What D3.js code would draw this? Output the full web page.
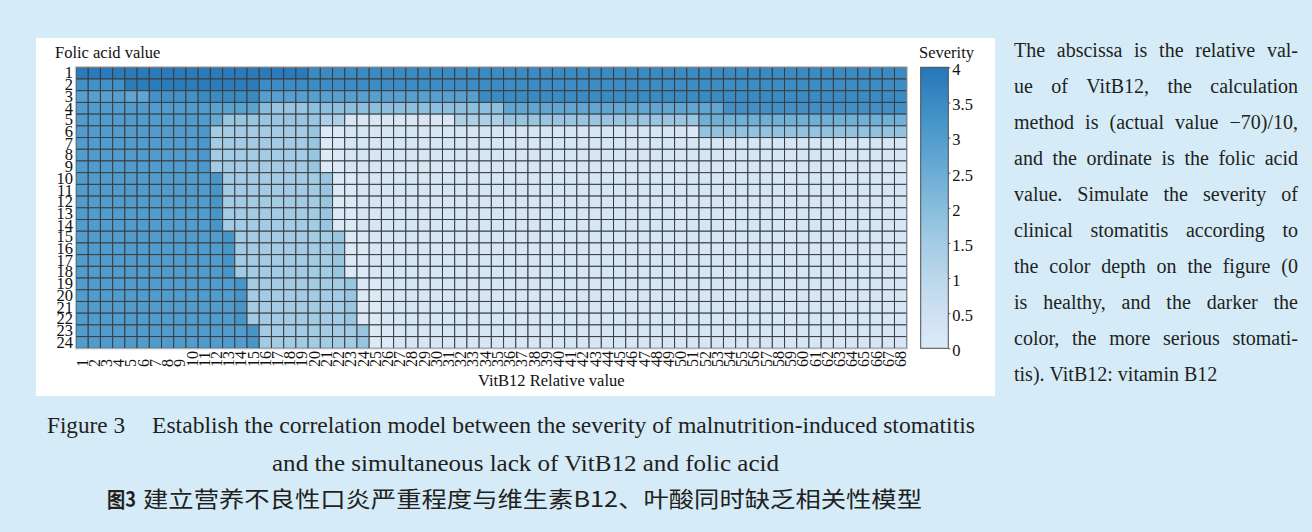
<!DOCTYPE html>
<html>
<head>
<meta charset="utf-8">
<script src="https://cdn.jsdelivr.net/npm/d3@7"></script>
<style>
  html, body { margin: 0; padding: 0; background: #d5ebf8; }
  svg { display: block; }
</style>
</head>
<body>
<svg id="fig" width="1312" height="532"></svg>
<script>
// ---- data ----------------------------------------------------------------
// VitB12 relative value (columns) and folic acid value (rows)
const vitB12Values = d3.range(1, 69);
const folicValues = d3.range(1, 25);

// Severity per folic-acid row, stored as runs of [number of columns, severity]
// running left to right across the 68 VitB12 columns.
const severityRow1  = [[19, 3.9], [49, 3.5]];
const severityRow2  = [[4, 3.3], [11, 3.85], [53, 3.45]];
const severityRow3  = [[4, 2.9], [2, 2.7], [4, 3.3], [5, 3.5], [18, 2.9], [35, 3.5]];
const severityRow4  = [[11, 3.0], [4, 2.8], [1, 2.0], [3, 1.7], [16, 1.9], [18, 2.7], [15, 3.35]];
const severityRow5  = [[11, 3.0], [1, 2.6], [8, 1.7], [2, 1.3], [9, 0.15], [4, 1.3], [16, 1.7], [17, 2.4]];
const severityRow6  = [[10, 3.0], [1, 3.1], [8, 1.5], [1, 1.7], [2, 0.05], [28, 0.25], [1, 0.05], [17, 1.8]];
const severityRow7to9   = [[10, 3.0], [1, 3.1], [8, 1.5], [1, 1.7], [2, 0.05], [46, 0.25]];
const severityRow10to14 = [[11, 3.0], [1, 3.2], [8, 1.5], [1, 1.7], [2, 0.05], [45, 0.25]];
const severityRow15to18 = [[12, 3.0], [1, 3.2], [8, 1.5], [1, 1.7], [2, 0.05], [44, 0.25]];
const severityRow19to22 = [[13, 3.0], [1, 3.2], [8, 1.5], [1, 1.7], [2, 0.05], [43, 0.25]];
const severityRow23to24 = [[14, 3.0], [1, 3.2], [8, 1.5], [1, 1.7], [2, 0.05], [42, 0.25]];

const severityRows = [
  severityRow1, severityRow2, severityRow3, severityRow4, severityRow5, severityRow6,
  severityRow7to9, severityRow7to9, severityRow7to9,
  severityRow10to14, severityRow10to14, severityRow10to14, severityRow10to14, severityRow10to14,
  severityRow15to18, severityRow15to18, severityRow15to18, severityRow15to18,
  severityRow19to22, severityRow19to22, severityRow19to22, severityRow19to22,
  severityRow23to24, severityRow23to24
];

const severityTicks = [0, 0.5, 1, 1.5, 2, 2.5, 3, 3.5, 4];

const noteLines = [
  "The abscissa is the relative val-",
  "ue of VitB12, the calculation",
  "method is (actual value \u221270)/10,",
  "and the ordinate is the folic acid",
  "value. Simulate the severity of",
  "clinical stomatitis according to",
  "the color depth on the figure (0",
  "is healthy, and the darker the",
  "color, the more serious stomati-",
  "tis). VitB12: vitamin B12"
];

// ---- build cells -----------------------------------------------------------
const cells = [];
severityRows.forEach((runs, r) => {
  let c = 0;
  runs.forEach(([n, v]) => {
    for (let k = 0; k < n; k++, c++) {
      cells.push({ folic: folicValues[r], vit: vitB12Values[c], value: v });
    }
  });
});

// ---- layout ----------------------------------------------------------------
const serif = "'Liberation Serif', 'DejaVu Serif', serif";
const grid = { x0: 76, x1: 906.7, y0: 67.3, y1: 348.3 };
const bar = { x0: 920.7, x1: 948.3 };

const svg = d3.select("#fig");

// white figure panel
svg.append("rect")
  .attr("x", 36).attr("y", 38).attr("width", 959).attr("height", 358)
  .attr("fill", "#ffffff");

const x = d3.scaleBand().domain(vitB12Values).range([grid.x0, grid.x1]);
const y = d3.scaleBand().domain(folicValues).range([grid.y0, grid.y1]);
// severity 0..4 mapped onto the middle part of the Blues ramp
const color = d3.scaleSequential(t => d3.interpolateBlues(0.13 + 0.6 * t)).domain([0, 4]);

// heatmap cells
svg.append("g")
  .selectAll("rect")
  .data(cells)
  .join("rect")
  .attr("x", d => x(d.vit))
  .attr("y", d => y(d.folic))
  .attr("width", x.bandwidth())
  .attr("height", y.bandwidth())
  .attr("fill", d => color(d.value))
  .attr("stroke", "#3a3d42")
  .attr("stroke-width", 1);

// light frame around the heatmap
svg.append("rect")
  .attr("x", grid.x0 - 0.5).attr("y", grid.y0 - 0.5)
  .attr("width", grid.x1 - grid.x0 + 1).attr("height", grid.y1 - grid.y0 + 1)
  .attr("fill", "none").attr("stroke", "#c4c7cb").attr("stroke-width", 1.2);

// y axis (folic acid value)
const yAxis = svg.append("g")
  .attr("transform", `translate(${grid.x0},0)`)
  .call(d3.axisLeft(y).tickSize(0).tickPadding(3));
yAxis.select(".domain").remove();
yAxis.selectAll("text")
  .attr("font-family", serif).attr("font-size", 16.5).attr("fill", "#111");

// x axis (VitB12 relative value), labels rotated
const xAxis = svg.append("g")
  .attr("transform", `translate(0,${grid.y1})`)
  .call(d3.axisBottom(x).tickSize(0));
xAxis.select(".domain").remove();
xAxis.selectAll("text")
  .attr("transform", "rotate(-90)")
  .attr("text-anchor", "start")
  .attr("x", -18.7)
  .attr("y", 0)
  .attr("dy", "0.34em")
  .attr("font-family", serif).attr("font-size", 16).attr("fill", "#111");

// axis titles
svg.append("text")
  .attr("x", 55).attr("y", 58)
  .attr("font-family", serif).attr("font-size", 16.5).attr("fill", "#111")
  .text("Folic acid value");

svg.append("text")
  .attr("x", 478).attr("y", 386)
  .attr("font-family", serif).attr("font-size", 16.5).attr("fill", "#111")
  .text("VitB12 Relative value");

// colour bar
const barScale = d3.scaleLinear().domain([0, 4]).range([grid.y1, grid.y0]);
const defs = svg.append("defs");
const grad = defs.append("linearGradient")
  .attr("id", "severityGrad")
  .attr("x1", 0).attr("y1", 1).attr("x2", 0).attr("y2", 0);
grad.selectAll("stop")
  .data(severityTicks)
  .join("stop")
  .attr("offset", d => d / 4)
  .attr("stop-color", d => color(d));

svg.append("rect")
  .attr("x", bar.x0).attr("y", grid.y0)
  .attr("width", bar.x1 - bar.x0).attr("height", grid.y1 - grid.y0)
  .attr("fill", "url(#severityGrad)")
  .attr("stroke", "#4a4d52").attr("stroke-width", 1);

const barAxis = svg.append("g")
  .attr("transform", `translate(${bar.x1},0)`)
  .call(d3.axisRight(barScale).tickValues(severityTicks).tickFormat(d3.format("")).tickSize(2).tickPadding(2));
barAxis.select(".domain").remove();
barAxis.selectAll("line").attr("stroke", "#4a4d52");
barAxis.selectAll("text")
  .attr("dy", "0.45em")
  .attr("font-family", serif).attr("font-size", 16.5).attr("fill", "#111");

svg.append("text")
  .attr("x", 919).attr("y", 58)
  .attr("font-family", serif).attr("font-size", 16.5).attr("fill", "#111")
  .text("Severity");

// justified note on the right
const noteX0 = 1014, noteX1 = 1298;
const noteG = svg.append("g")
  .attr("font-family", serif).attr("font-size", 20).attr("fill", "#231f20");
noteLines.forEach((line, i) => {
  const baseline = 57 + 36 * i;
  const words = line.split(" ");
  const widths = words.map(w => {
    const t = noteG.append("text").text(w);
    const wd = t.node().getComputedTextLength();
    t.remove();
    return wd;
  });
  const total = d3.sum(widths);
  const last = i === noteLines.length - 1;
  const gap = last ? 5 : (noteX1 - noteX0 - total) / (words.length - 1);
  let cx = noteX0;
  words.forEach((w, k) => {
    noteG.append("text").attr("x", cx).attr("y", baseline).text(w);
    cx += widths[k] + gap;
  });
});

// figure caption
const capG = svg.append("g").attr("fill", "#231f20");
capG.append("text")
  .attr("x", 47).attr("y", 433)
  .attr("font-family", serif).attr("font-size", 23)
  .attr("textLength", 78).attr("lengthAdjust", "spacingAndGlyphs")
  .text("Figure 3");
capG.append("text")
  .attr("x", 152).attr("y", 433)
  .attr("font-family", serif).attr("font-size", 23)
  .attr("textLength", 823).attr("lengthAdjust", "spacingAndGlyphs")
  .text("Establish the correlation model between the severity of malnutrition-induced stomatitis");
capG.append("text")
  .attr("x", 272).attr("y", 471)
  .attr("font-family", serif).attr("font-size", 23)
  .attr("textLength", 507).attr("lengthAdjust", "spacingAndGlyphs")
  .text("and the simultaneous lack of VitB12 and folic acid");
capG.append("text")
  .attr("x", 107).attr("y", 507)
  .attr("font-family", "'Noto Sans CJK SC', sans-serif").attr("font-size", 21).attr("font-weight", "bold")
  .attr("textLength", 29).attr("lengthAdjust", "spacingAndGlyphs")
  .text("图3");
capG.append("text")
  .attr("x", 143).attr("y", 507)
  .attr("font-family", "'Noto Sans CJK SC', sans-serif").attr("font-size", 22)
  .attr("textLength", 779).attr("lengthAdjust", "spacingAndGlyphs")
  .text("建立营养不良性口炎严重程度与维生素B12、叶酸同时缺乏相关性模型");
</script>
</body>
</html>
